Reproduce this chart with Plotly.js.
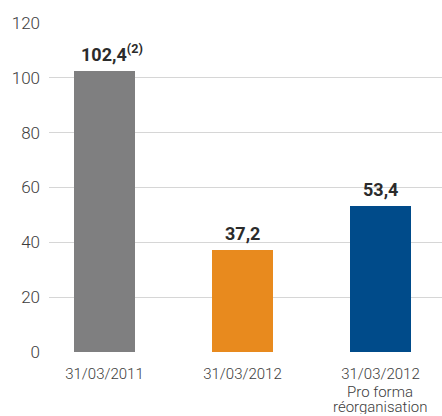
<!DOCTYPE html>
<html><head><meta charset="utf-8">
<script src="https://cdn.plot.ly/plotly-3.0.1.min.js"></script>
<style>html,body{margin:0;padding:0;background:#fff}#c{width:442px;height:416px}</style>
</head><body><div id="c"></div>
<script>
const categories = ["31/03/2011", "31/03/2012", "31/03/2012<br>Pro forma<br>réorganisation"];
const values = [102.4, 37.2, 53.4];
const valueLabels = ["102,4", "37,2", "53,4"];
const labelNotes = ["(2)", "", ""];
const colors = ["#7f7f80", "#e88a1e", "#004b8a"];
const yTicks = [0, 20, 40, 60, 80, 100, 120];

const trace = {
  type: "bar",
  x: [0, 1, 2],
  y: values,
  width: 0.442,
  marker: {color: colors},
  hoverinfo: "none"
};

const valueAnns = values.map((v, i) => ({
  x: i, y: v, xref: "x", yref: "y",
  text: "<b>" + valueLabels[i] + "</b>" + (labelNotes[i] ? "<sup><b>" + labelNotes[i] + "</b></sup>" : ""),
  showarrow: false,
  xanchor: "center", yanchor: "bottom",
  xshift: labelNotes[i] ? 8 : 0,
  yshift: 4,
  font: {family: "Roboto, Arial, sans-serif", size: 18, color: "#2b2b2b"}
}));

// extra lines of multi-line category labels (tight line spacing)
const lineAnns = [];
categories.forEach((c, i) => {
  c.split("<br>").slice(1).forEach((line, k) => {
    lineAnns.push({
      x: i, y: 0, xref: "x", yref: "y",
      text: line, showarrow: false,
      xanchor: "center", yanchor: "top",
      height: 14, borderpad: 0,
      yshift: -(16 + 15.5 * (k + 1)),
      font: {family: "Roboto, Arial, sans-serif", size: 15, weight: 300, color: "#3c3c3c"}
    });
  });
});

const layout = {
  width: 442, height: 416,
  margin: {l: 49, r: 0, t: 23, b: 64},
  paper_bgcolor: "#fff", plot_bgcolor: "#fff",
  showlegend: false,
  font: {family: "Roboto, Arial, sans-serif", color: "#444"},
  annotations: valueAnns.concat(lineAnns),
  xaxis: {
    range: [-0.402, 2.446],
    tickvals: [0, 1, 2],
    ticktext: categories.map(c => c.split("<br>")[0]),
    showgrid: false, zeroline: false, showline: false,
    ticks: "",
    ticklabelstandoff: 11,
    tickfont: {size: 15, weight: 300, color: "#3c3c3c"},
    fixedrange: true
  },
  yaxis: {
    range: [0, 120],
    tickvals: yTicks,
    showgrid: true, gridcolor: "#d6d6d6", gridwidth: 1,
    zeroline: false, showline: false,
    ticks: "",
    ticklabelstandoff: 8,
    tickfont: {size: 17, weight: 300, color: "#3c3c3c"},
    fixedrange: true
  },
  bargap: 0
};
Plotly.newPlot("c", [trace], layout, {displayModeBar: false, staticPlot: true});
</script>
</body></html>
